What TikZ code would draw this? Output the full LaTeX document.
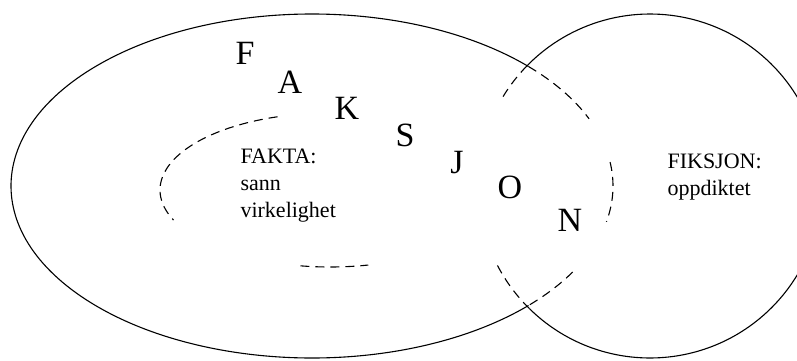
\documentclass[tikz,border=0pt]{standalone}
\usepackage{fontspec}
\setmainfont{Liberation Serif}

\begin{document}
\begin{tikzpicture}[x=1pt,y=1pt,line width=1.1pt,
  letter/.style = {font=\fontsize{34}{34}\selectfont, inner sep=0pt},
  label/.style = {font=\fontsize{22}{27}\selectfont, align=left, inner sep=0pt, anchor=base west},
  dashline/.style = {dash pattern=on 9pt off 6pt}]
\useasboundingbox (0,0) rectangle (797,360);
\coordinate (ec) at (312,174); \coordinate (cc) at (650,174); \coordinate (ic) at (330,170);
\draw ([shift={(44:301 and 172)}]ec) arc[start angle=44,end angle=316,x radius=301,y radius=172];
\draw [dashline] ([shift={(44:301 and 172)}]ec) arc[start angle=44,end angle=23,x radius=301,y radius=172];
\draw [dashline] ([shift={(8:301 and 172)}]ec) arc[start angle=8,end angle=-12,x radius=301,y radius=172];
\draw [dashline] ([shift={(-30:301 and 172)}]ec) arc[start angle=-30,end angle=-44,x radius=301,y radius=172];
\draw ([shift={(-134.5:172)}]cc) arc[start angle=-134.5,end angle=135.7,radius=172];
\draw [dashline] ([shift={(135.7:172)}]cc) arc[start angle=135.7,end angle=149,radius=172];
\draw [dashline] ([shift={(207.5:172)}]cc) arc[start angle=207.5,end angle=225.5,radius=172];
\draw [dashline] ([shift={(108:170 and 77)}]ic) arc[start angle=108,end angle=203,x radius=170,y radius=77];
\draw [dashline] ([shift={(260:170 and 77)}]ic) arc[start angle=260,end angle=283,x radius=170,y radius=77];
\node[letter](l1) at (245,307) {F}; \node[letter](l2) at (290,278) {A}; \node[letter](l3) at (347,252) {K};
\node[letter](l4) at (405,225) {S}; \node[letter](l5) at (457,197) {J}; \node[letter](l6) at (510,173) {O};
\node[letter](l7) at (570,140) {N};
\node[label](fakta) at (240,143) {FAKTA:\\sann\\virkelighet};
\node[label](fiksjon) at (667,165) {FIKSJON:\\oppdiktet};
\end{tikzpicture}
\end{document}
